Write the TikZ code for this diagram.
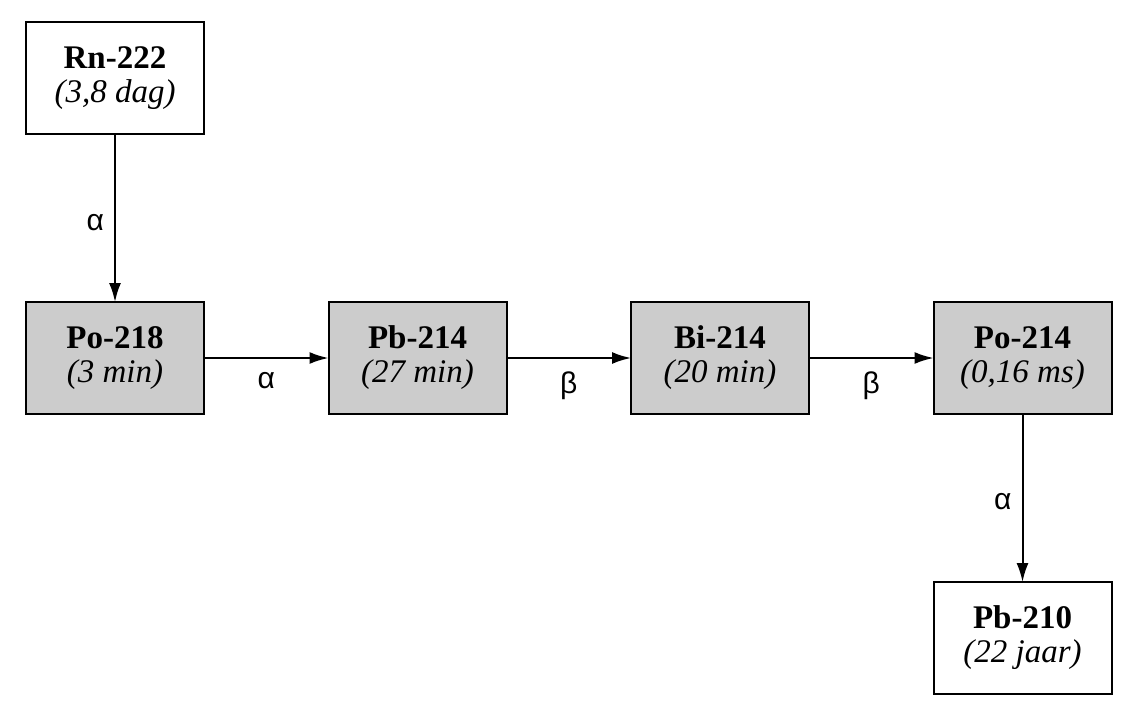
\documentclass[tikz,border=0pt]{standalone}
\usepackage{fontspec}
\setmainfont{Liberation Serif}
\newfontfamily\lblfont{Liberation Sans}
\usetikzlibrary{arrows.meta}
\tikzset{
  decay/.style={draw, line width=2pt, minimum width=178pt, minimum height=112pt, inner sep=0pt, outer sep=0pt, align=center, font=\fontsize{33}{34}\selectfont},
  shortlived/.style={decay, fill=black!20},
  conn/.style={line width=2pt, -{Latex[length=19pt,width=12pt]}},
  lbl/.style={font=\lblfont\fontsize{30}{30}\selectfont, inner sep=0pt}
}
\begin{document}
\begin{tikzpicture}[x=1pt,y=-1pt]
\useasboundingbox (0,0) rectangle (1137,719);
\node[decay] (rn) at (115,78) {\textbf{Rn-222}\\\textit{(3,8 dag)}};
\node[shortlived] (po218) at (115,358) {\textbf{Po-218}\\\textit{(3 min)}};
\node[shortlived] (pb214) at (417.5,358) {\textbf{Pb-214}\\\textit{(27 min)}};
\node[shortlived] (bi214) at (720,358) {\textbf{Bi-214}\\\textit{(20 min)}};
\node[shortlived] (po214) at (1022.5,358) {\textbf{Po-214}\\\textit{(0,16 ms)}};
\node[decay] (pb210) at (1022.5,638) {\textbf{Pb-210}\\\textit{(22 jaar)}};
\draw[conn] (rn) -- node[lbl, left=10pt, pos=0.53] {α} (po218);
\draw[conn] (po218) -- node[lbl, below=13pt] {α} (pb214);
\draw[conn] (pb214) -- node[lbl, below=13pt] {β} (bi214);
\draw[conn] (bi214) -- node[lbl, below=13pt] {β} (po214);
\draw[conn] (po214) -- node[lbl, left=10pt, pos=0.52] {α} (pb210);
\end{tikzpicture}
\end{document}
